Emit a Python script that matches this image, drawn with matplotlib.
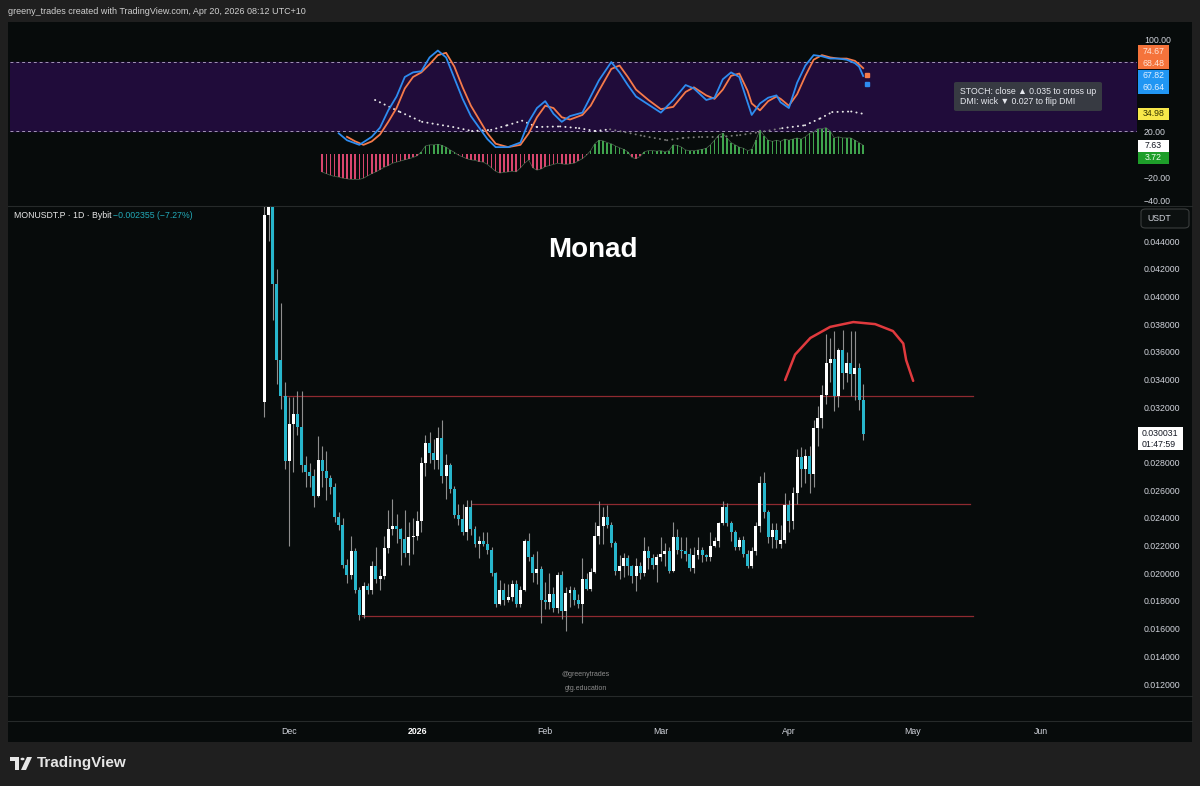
import matplotlib
matplotlib.use("Agg")
import matplotlib.pyplot as plt
from matplotlib.patches import Rectangle, FancyBboxPatch, Circle, Polygon

plt.rcParams['font.family'] = ['Liberation Sans', 'DejaVu Sans']

# ---------------- data ----------------
# day index: 0 = Dec 1 2025 ; first candle day -6 (Nov 25)
first_day = -6
opens = [.0324, .0459, .0470, .0409, .0354, .0328, .0281, .0308, .0315, .0306,
         .0278, .0273, .0270, .0256, .0282, .0274, .0269, .0262, .0241, .0235,
         .0206, .0199, .0216, .0188, .0170, .0191, .0188, .0205, .0196, .0198,
         .0218, .0232, .0234, .0232, .0225, .0215, .0226, .0227, .0238, .0280,
         .0294, .0287, .0282, .0298, .0270, .0278, .0261, .0242, .0239, .0230,
         .0248, .0232, .0221, .0223, .0221, .0217, .0200, .0178, .0188, .0181,
         .0183, .0192, .0178, .0188, .0223, .0212, .0200, .0203, .0181, .0179,
         .0185, .0175, .0199, .0173, .0186, .0188, .0181, .0178, .0196, .0189,
         .0201, .0227, .0234, .0241, .0235, .0222, .0202, .0205, .0211, .0205,
         .0198, .0205, .0200, .0216, .0211, .0206, .0212, .0214, .0216, .0202,
         .0226, .0217, .0216, .0214, .0204, .0213, .0217, .0213, .0212, .0220,
         .0223, .0236, .0248, .0236, .0230, .0219, .0224, .0214, .0205, .0216,
         .0234, .0265, .0244, .0226, .0231, .0221, .0224, .0249, .0238, .0258,
         .0284, .0275, .0285, .0272, .0305, .0312, .0329, .0352, .0355, .0328,
         .0361, .0345, .0352, .0344, .0348, .0325]
highs = [.0480, .0500, .0490, .0420, .0395, .0338, .0327, .0327, .0332, .0332,
         .0285, .0280, .0275, .0299, .0292, .0288, .0271, .0265, .0244, .0240,
         .0210, .0227, .0218, .0190, .0194, .0193, .0209, .0219, .0203, .0227,
         .0246, .0254, .0243, .0233, .0246, .0237, .0240, .0245, .0284, .0300,
         .0302, .0297, .0306, .0311, .0286, .0280, .0263, .0250, .0250, .0253,
         .0253, .0234, .0227, .0230, .0230, .0219, .0201, .0195, .0193, .0192,
         .0195, .0195, .0191, .0225, .0229, .0214, .0216, .0205, .0194, .0200,
         .0190, .0201, .0202, .0190, .0191, .0190, .0185, .0211, .0200, .0204,
         .0237, .0252, .0248, .0249, .0237, .0223, .0213, .0215, .0213, .0206,
         .0211, .0208, .0226, .0220, .0214, .0214, .0226, .0222, .0219, .0237,
         .0232, .0226, .0226, .0218, .0219, .0226, .0219, .0214, .0230, .0226,
         .0237, .0252, .0251, .0238, .0231, .0226, .0227, .0217, .0219, .0237,
         .0270, .02735, .0246, .0236, .0236, .0235, .0258, .0253, .0262, .0290,
         .0291, .0290, .0292, .0311, .0321, .0336, .0373, .0370, .0375, .0363,
         .03757, .0360, .0375, .0375, .0352, .0337]
lows = [.0313, .0440, .0383, .0337, .0319, .0275, .0220, .0273, .0300, .0273,
        .0262, .0262, .0248, .0255, .0262, .0253, .0257, .0237, .0231, .0204,
        .0193, .0196, .0186, .0166, .0168, .0185, .0185, .0193, .0188, .0196,
        .0215, .0228, .0222, .0206, .0212, .0206, .0214, .0224, .0230, .0270,
        .0280, .0275, .0275, .0265, .0254, .0258, .0240, .0235, .0228, .0224,
        .0228, .0219, .0211, .0220, .0214, .0198, .0176, .0177, .0177, .0179,
        .0180, .0176, .0176, .0187, .0209, .0194, .0192, .0164, .0174, .0174,
        .0172, .0171, .0167, .0158, .0176, .0177, .0175, .0164, .0188, .0187,
        .0200, .0221, .0221, .0233, .0219, .0199, .0196, .0197, .0199, .0193,
        .0187, .0196, .0198, .0203, .0203, .0194, .0209, .0205, .0200, .0201,
        .0214, .0211, .0209, .0202, .0200, .0210, .0208, .0209, .0209, .0219,
        .0219, .0235, .0234, .0223, .0217, .0217, .0212, .0204, .0204, .0213,
        .0230, .0240, .0222, .0218, .0218, .0218, .0222, .0230, .0232, .0250,
        .0262, .0265, .0258, .0262, .0292, .0305, .0322, .0338, .0317, .0320,
        .0333, .0338, .0328, .0325, .0318, .0296]
closes = [.0459, .0470, .0409, .0354, .0328, .0281, .0308, .0315, .0306, .0278,
          .0273, .0270, .0256, .0282, .0274, .0269, .0262, .0241, .0235, .0206,
          .0199, .0216, .0188, .0170, .0191, .0188, .0205, .0196, .0198, .0218,
          .0232, .0234, .0232, .0225, .0215, .0226, .0227, .0238, .0280, .0294,
          .0287, .0282, .0298, .0270, .0278, .0261, .0242, .0239, .0230, .0248,
          .0232, .0221, .0223, .0221, .0217, .0200, .0178, .0188, .0181, .0183,
          .0192, .0178, .0188, .0223, .0212, .0200, .0203, .0181, .0179, .0185,
          .0175, .0199, .0173, .0186, .0188, .0181, .0178, .0196, .0189, .0201,
          .0227, .0234, .0241, .0235, .0222, .0202, .0205, .0211, .0205, .0198,
          .0205, .0200, .0216, .0211, .0206, .0212, .0214, .0216, .0202, .0226,
          .0217, .0216, .0214, .0204, .0213, .0217, .0213, .0212, .0220, .0223,
          .0236, .0248, .0236, .0230, .0219, .0224, .0214, .0205, .0216, .0234,
          .0265, .0244, .0226, .0231, .0224, .0224, .0249, .0238, .0258, .0284,
          .0275, .0285, .0272, .0305, .0312, .0329, .0352, .0355, .0328, .0361,
          .0345, .0352, .0344, .0348, .0325, .030031]

# horizontal levels (price, start day, end day)
level_prices = [0.03281, 0.02501, 0.0169]
level_start = [-1.5, 44.3, 17.7]
level_end = [165.6, 164.9, 165.6]

# hand drawn arc (day, price)
arc_days = [120.1, 122.5, 126.2, 131.0, 136.6, 141.9, 146.2, 148.7, 149.4, 151.1]
arc_prices = [0.03396, 0.0358, 0.0370, 0.0378, 0.03815, 0.0380, 0.0375, 0.0366, 0.0354, 0.0339]

# stochastic %K (blue) and %D (orange)
k_days = [12, 14, 17, 20, 22, 24, 26, 28, 30, 32, 34, 36, 38, 40, 42, 44, 46, 48, 50, 53,
          56, 58, 60, 62, 64, 66, 68, 71, 73, 75, 78, 80, 82, 84, 87, 90, 93, 96, 98, 101,
          103, 105, 107, 109, 111, 112, 114, 116, 118, 119, 121, 123, 125, 127, 129, 131,
          133, 135, 137, 138, 139]
k_vals = [18, 12, 8, 15, 23, 38, 50, 67, 71, 72, 84, 90, 84, 66, 48, 33, 23, 13, 6, 6,
          10, 28, 40, 46, 35, 28, 33, 36, 50, 64, 80, 71, 60, 50, 43, 36, 47, 60, 57, 47,
          49, 65, 71, 67, 45, 34, 44, 49, 51, 45, 40, 62, 77, 86, 85, 83,
          83, 82, 79, 76, 67.82]
d_days = [14, 16, 18, 20, 22, 24, 26, 28, 30, 32, 34, 36, 38, 40, 42, 44, 46, 48, 50, 53,
          56, 58, 60, 62, 64, 66, 68, 71, 73, 75, 78, 80, 82, 84, 87, 90, 93, 96, 98, 101,
          103, 105, 107, 109, 111, 112, 114, 116, 118, 119, 121, 123, 125, 127, 129, 131,
          133, 135, 137, 138, 139]
d_vals = [15, 11, 8, 11, 17, 28, 40, 57, 67, 71, 78, 86, 88, 76, 58, 42, 30, 18, 9, 6,
          8, 18, 32, 42, 40, 32, 30, 34, 42, 55, 74, 77, 67, 56, 47, 39, 41, 54, 58, 51,
          48, 56, 68, 70, 55, 44, 38, 46, 50, 48, 42, 52, 68, 82, 86, 84,
          83, 83, 81, 78, 74.67]
k_next, d_next = 60.64, 68.48

# DMI / ADX dotted line
adx_days = [20.8, 26.9, 32.2, 39.7, 44.3, 48.9, 52.8, 56.4, 60.0, 65.6, 70.2, 74.1, 77.7,
            81.4, 86.0, 91.5, 95.4, 100.0, 104.6, 109.2, 113.8, 119.4, 124.9, 128.6,
            131.5, 136.1, 139.0]
adx_vals = [47, 36.5, 28, 23.5, 20, 21, 25, 29, 23.5, 24, 22.5, 20, 21.5,
            19, 15.5, 12, 14, 15, 15, 16.5, 19, 22.5, 25, 31, 36.5, 37, 34.98]

# histogram (days 8 .. 139)
hist_first = 8
hist_vals = [-15.7, -17, -18.5, -19.5, -20, -21, -21.5, -22, -22, -22,
             -21, -19, -17, -15.5, -13.5, -11.5, -10, -8, -7, -6,
             -5, -4, -3, -1.5, 2, 7, 8, 8, 8.5, 7.5,
             6, 3.5, 1.5, -1, -2.5, -4, -5, -5.5, -6.5, -7,
             -9, -12, -15, -16.5, -16, -15.5, -15, -15.5, -12, -8,
             -5, -12, -14, -13, -11, -10, -9, -8, -8.5, -9,
             -8.5, -8, -6, -4, -1, 3, 9, 12, 11.5, 10,
             9, 7, 5.5, 4, 2, -3, -4, -2, 2, 3,
             3, 2.5, 3, 2, 3, 8, 7.5, 6, 3.5, 3,
             3, 3.5, 4, 5, 8, 12, 16.5, 18, 14, 10,
             8, 6, 5, 3, 4, 12, 21, 16, 12, 11,
             12, 11, 13, 12, 13, 14, 13, 15, 18, 19,
             22, 22, 23, 20, 14, 15, 14, 14, 14, 12,
             10, 7.63]

month_days = [0, 31, 62, 90, 121, 151, 182]
month_labels = ['Dec', '2026', 'Feb', 'Mar', 'Apr', 'May', 'Jun']
price_ticks = [0.012, 0.014, 0.016, 0.018, 0.020, 0.022, 0.024, 0.026, 0.028,
               0.032, 0.034, 0.036, 0.038, 0.040, 0.042, 0.044]
ind_ticks = [100, 20, -20, -40]
last_price = 0.030031

# ---------------- figure ----------------
W, H, DPI = 1200, 786, 100
fig = plt.figure(figsize=(W / DPI, H / DPI), dpi=DPI)
fig.patch.set_facecolor('#1f1f1f')

BG = '#070b0b'
TXT = '#d1d4dc'
UP = '#ffffff'
DN = '#27b6cc'
WICK = '#8f8f8f'


def rect(x0, y0, x1, y1):
    return [x0 / W, 1 - y1 / H, (x1 - x0) / W, (y1 - y0) / H]


def fx(x):
    return x / W


def fy(y):
    return 1 - y / H


# chart panel background (behind everything)
fig.patches.append(Rectangle((fx(8), fy(742)), 1184 / W, 720 / H, transform=fig.transFigure,
                             facecolor=BG, edgecolor='none', zorder=-10))
for yy in (205.5, 695.5, 720.5):
    fig.add_artist(plt.Line2D([fx(8), fx(1192)], [fy(yy), fy(yy)], transform=fig.transFigure,
                              color='#262a2a', lw=0.8, zorder=-5))

XL = (-67.6, 205.3)


def clean(ax):
    ax.set_facecolor('none')
    ax.set_zorder(1)
    for s in ax.spines.values():
        s.set_visible(False)
    ax.set_xlim(*XL)
    ax.set_xticks([])


# ---------- indicator pane ----------
ax_i = fig.add_axes(rect(10, 22, 1137, 205))
clean(ax_i)
ax_i.set_ylim(-44.3, 114.8)
ax_i.axhspan(20, 80, color='#200c3a', zorder=0)
for lv in (80, 20):
    ax_i.axhline(lv, color='#a495b8', lw=0.7, dashes=(3, 3), zorder=1)
ax_i.yaxis.tick_right()
ax_i.set_yticks(ind_ticks)
ax_i.set_yticklabels([('\u2212' if v < 0 else '') + f'{abs(v):.2f}' for v in ind_ticks])
ax_i.tick_params(axis='y', length=0, pad=5, labelsize=6.3, labelcolor=TXT)

hist_days = list(range(hist_first, hist_first + len(hist_vals)))
hcol = ['#3fa34d' if v >= 0 else '#d8466e' for v in hist_vals]
ax_i.bar(hist_days, hist_vals, width=0.4, color=hcol, zorder=2)
ax_i.plot(hist_days, hist_vals, color='#5f7f62', lw=0.5, zorder=2.5, alpha=0.8)

# ADX dotted line, dimmer where below 20
for i in range(len(adx_days) - 1):
    c = '#e8e8e8' if min(adx_vals[i], adx_vals[i + 1]) >= 19.5 else '#7a7a7a'
    ax_i.plot(adx_days[i:i + 2], adx_vals[i:i + 2], color=c, lw=1.4,
              dashes=(0.1, 2.6), dash_capstyle='round', zorder=3)

ax_i.plot(d_days, d_vals, color='#f57a4a', lw=1.3, zorder=4, solid_joinstyle='round')
ax_i.plot(k_days, k_vals, color='#2e8cf0', lw=1.3, zorder=5, solid_joinstyle='round')
ax_i.plot([k_days[-1] + 1], [k_next], 's', color='#2e8cf0', ms=2.2, zorder=5)
ax_i.plot([d_days[-1] + 1], [d_next], 's', color='#f57a4a', ms=2.2, zorder=5)

# ---------- main pane ----------
ax = fig.add_axes(rect(10, 207, 1137, 695))
clean(ax)
ax.set_ylim(0.01121, 0.04646)
ax.yaxis.tick_right()
ax.set_yticks(price_ticks)
ax.set_yticklabels([f'{v:.6f}' for v in price_ticks])
ax.tick_params(axis='y', length=0, pad=4.5, labelsize=6.3, labelcolor=TXT)

days = list(range(first_day, first_day + len(closes)))
up_idx = [i for i in range(len(days)) if closes[i] >= opens[i]]
dn_idx = [i for i in range(len(days)) if closes[i] < opens[i]]
ax.vlines(days, lows, highs, color=WICK, lw=0.8, zorder=2)
for idx, col in ((up_idx, UP), (dn_idx, DN)):
    xs = [days[i] for i in idx]
    bottoms = [min(opens[i], closes[i]) for i in idx]
    heights = [max(abs(closes[i] - opens[i]), 0.00006) for i in idx]
    ax.bar(xs, heights, bottom=bottoms, width=0.72, color=col, zorder=3, linewidth=0)

for p, s, e in zip(level_prices, level_start, level_end):
    ax.plot([s, e], [p, p], color='#8e2a30', lw=0.9, zorder=1)

ax.plot(arc_days, arc_prices, color='#e03a3e', lw=1.8, solid_capstyle='round',
        solid_joinstyle='round', zorder=4)

ax.text(0.5169, 0.911, 'Monad', transform=ax.transAxes, ha='center', va='center',
        fontsize=20, fontweight='bold', color='#ffffff')

# legend line
fig.text(fx(14), fy(216), 'MONUSDT.P \u00b7 1D \u00b7 Bybit', fontsize=6.3, color='#e8e8e8',
         va='center', ha='left')
fig.text(fx(113), fy(216), '\u22120.002355 (\u22127.27%)', fontsize=6.3, color='#22a9b8',
         va='center', ha='left')

# watermark
fig.text(fx(586), fy(675), '@greenytrades', fontsize=5, color='#8c8c8c', ha='center', va='center')
fig.text(fx(586), fy(689), 'gtg.education', fontsize=5, color='#8c8c8c', ha='center', va='center')

# last price label
fig.patches.append(Rectangle((fx(1138), fy(450)), 45 / W, 23 / H, transform=fig.transFigure,
                             facecolor='#ffffff', edgecolor='none', zorder=5))
fig.text(fx(1142), fy(433), f'{last_price:.6f}', fontsize=6.3, color='#131722', va='center',
         ha='left', zorder=6)
fig.text(fx(1142), fy(444), '01:47:59', fontsize=6.3, color='#131722', va='center', ha='left',
         zorder=6)

# USDT box
fig.patches.append(FancyBboxPatch((fx(1141), fy(228)), 48 / W, 19 / H, transform=fig.transFigure,
                                  boxstyle='round,pad=0,rounding_size=0.004',
                                  facecolor='#0c1010', edgecolor='#3a3d3d', lw=0.8, zorder=5))
fig.text(fx(1147), fy(218.5), 'USDT', fontsize=6.3, color=TXT, va='center', ha='left', zorder=6)

# indicator value labels (stacked like TradingView)
ind_labels = [('74.67', 51, '#f5733b', '#ffe3d6'), ('68.48', 63, '#f5733b', '#ffe3d6'),
              ('67.82', 76, '#2196f3', '#e3f0ff'), ('60.64', 88, '#2196f3', '#e3f0ff'),
              ('34.98', 114, '#f7e84a', '#333300'), ('7.63', 146, '#ffffff', '#131722'),
              ('3.72', 158, '#1e9e2a', '#eaffea')]
for txt, yc, bg, fg in ind_labels:
    fig.patches.append(Rectangle((fx(1138), fy(yc + 6)), 31 / W, 12 / H, transform=fig.transFigure,
                                 facecolor=bg, edgecolor='none', zorder=5))
    fig.text(fx(1153.5), fy(yc), txt, fontsize=6.3, color=fg, va='center', ha='center', zorder=6)

# tooltip box
fig.patches.append(FancyBboxPatch((fx(954), fy(111)), 148 / W, 29 / H, transform=fig.transFigure,
                                  boxstyle='round,pad=0,rounding_size=0.002',
                                  facecolor='#373a42', edgecolor='none', zorder=5))
fig.text(fx(960), fy(91), 'STOCH: close \u25b2 0.035 to cross up', fontsize=6.3, color='#e6e8ee',
         va='center', ha='left', zorder=6)
fig.text(fx(960), fy(102), 'DMI: wick \u25bc 0.027 to flip DMI', fontsize=6.3, color='#e6e8ee',
         va='center', ha='left', zorder=6)

# ---------- time axis ----------
ax_t = fig.add_axes(rect(10, 721, 1137, 741))
clean(ax_t)
ax_t.set_ylim(0, 1)
ax_t.set_yticks([])
for d, lab in zip(month_days, month_labels):
    ax_t.text(d, 0.5, lab, ha='center', va='center', fontsize=6.3,
              color='#ffffff' if lab == '2026' else TXT,
              fontweight='bold' if lab == '2026' else 'normal')

# ---------- header & footer ----------
fig.text(fx(8), fy(11), 'greeny_trades created with TradingView.com, Apr 20, 2026 08:12 UTC+10',
         fontsize=6.5, color='#cfcfcf', va='center', ha='left')

# TradingView logo
logo_c = '#e6e6e6'
fig.patches.append(Polygon([(fx(10), fy(757)), (fx(19), fy(757)), (fx(19), fy(770)),
                            (fx(15), fy(770)), (fx(15), fy(761)), (fx(10), fy(761))],
                           closed=True, transform=fig.transFigure, facecolor=logo_c, edgecolor='none'))
fig.patches.append(Circle((fx(22.5), fy(759)), 2.0 / W, transform=fig.transFigure,
                          facecolor=logo_c, edgecolor='none'))
fig.patches.append(Polygon([(fx(27), fy(757)), (fx(32), fy(757)), (fx(26), fy(770)),
                            (fx(21), fy(770))], closed=True, transform=fig.transFigure,
                           facecolor=logo_c, edgecolor='none'))
fig.text(fx(37), fy(763.5), 'TradingView', fontsize=11, fontweight='bold', color=logo_c,
         va='center', ha='left')

fig.savefig('out.png', dpi=DPI, facecolor=fig.get_facecolor())
